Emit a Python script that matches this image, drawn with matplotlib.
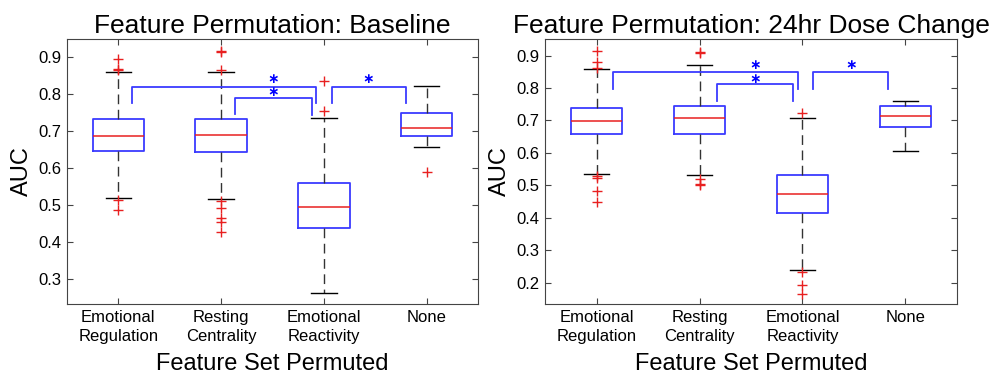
import matplotlib
matplotlib.use("Agg")
import matplotlib.pyplot as plt

plt.rcParams["font.family"] = ["Liberation Sans", "DejaVu Sans"]

# feature sets on the x axis
labels = ["Emotional\nRegulation", "Resting\nCentrality", "Emotional\nReactivity", "None"]

# baseline panel
base_med = [0.686, 0.688, 0.496, 0.709]
base_q1 = [0.647, 0.644, 0.439, 0.685]
base_q3 = [0.731, 0.731, 0.560, 0.747]
base_lo = [0.518, 0.516, 0.262, 0.657]
base_hi = [0.858, 0.860, 0.734, 0.821]
base_out = [[0.894, 0.867, 0.865, 0.514, 0.487],
            [0.916, 0.913, 0.864, 0.511, 0.491, 0.464, 0.455, 0.427],
            [0.836, 0.754],
            [0.590]]

# 24hr dose change panel
dose_med = [0.699, 0.707, 0.473, 0.713]
dose_q1 = [0.658, 0.658, 0.414, 0.680]
dose_q3 = [0.737, 0.745, 0.533, 0.745]
dose_lo = [0.534, 0.531, 0.240, 0.607]
dose_hi = [0.857, 0.872, 0.707, 0.760]
dose_out = [[0.915, 0.881, 0.861, 0.530, 0.522, 0.481, 0.448],
            [0.910, 0.907, 0.520, 0.504, 0.501],
            [0.723, 0.234, 0.193, 0.165],
            []]

# significance brackets: x start, x end, top, left leg end, right leg end
base_brackets = [(1.136, 2.922, 0.819, 0.776, 0.776),
                 (2.138, 2.880, 0.788, 0.745, 0.743),
                 (3.078, 3.795, 0.819, 0.776, 0.776)]
base_stars = [(2.509, 0.840), (2.509, 0.806), (3.432, 0.840)]
dose_brackets = [(1.161, 2.953, 0.848, 0.798, 0.798),
                 (2.167, 2.911, 0.812, 0.761, 0.761),
                 (3.105, 3.828, 0.848, 0.798, 0.798)]
dose_stars = [(2.535, 0.872), (2.535, 0.829), (3.466, 0.872)]

BLUE = "#3a3aff"


def panel(ax, title, med, q1, q3, lo, hi, out, brackets, stars, ylim, yticks):
    stats = []
    for i in range(len(labels)):
        stats.append(dict(med=med[i], q1=q1[i], q3=q3[i], whislo=lo[i],
                          whishi=hi[i], fliers=out[i]))
    ax.bxp(stats, positions=range(1, len(labels) + 1), widths=0.5,
           capwidths=0.25, showfliers=True,
           boxprops=dict(color=BLUE, linewidth=1.3),
           medianprops=dict(color="#e82020", linewidth=1.1),
           whiskerprops=dict(color="#333333", linewidth=1.0, linestyle=(0, (7, 4))),
           capprops=dict(color="black", linewidth=1.0),
           flierprops=dict(marker="+", markeredgecolor="#e82020",
                           markersize=7, linestyle="none"))
    for x0, x1, top, l0, l1 in brackets:
        ax.plot([x0, x0, x1, x1], [l0, top, top, l1], color=BLUE, linewidth=1.3)
    for sx, sy in stars:
        ax.text(sx, sy, r"$\mathbf{\ast}$", color="blue", fontsize=10,
                ha="center", va="center")
    ax.set_xlim(0.5, 4.5)
    ax.set_ylim(*ylim)
    ax.set_yticks(yticks)
    ax.set_yticklabels([f"{t:.1f}" for t in yticks])
    ax.set_xticks(range(1, len(labels) + 1))
    ax.set_xticklabels(labels)
    for lbl in ax.get_xticklabels():
        lbl.set_linespacing(1.35)
    ax.tick_params(direction="in", top=True, right=True, length=4,
                   labelsize=12, color="#444444", pad=4)
    for sp in ax.spines.values():
        sp.set_color("#444444")
    ax.set_title(title, fontsize=19, pad=4)
    ax.set_ylabel("AUC", fontsize=17, labelpad=4)
    ax.set_xlabel("Feature Set Permuted", fontsize=17, labelpad=7)


fig = plt.figure(figsize=(9.94, 3.77), dpi=100)
ax1 = fig.add_axes([67 / 994, 73 / 377, 411 / 994, 265 / 377])
ax2 = fig.add_axes([545 / 994, 73 / 377, 412 / 994, 265 / 377])

panel(ax1, "Feature Permutation: Baseline", base_med, base_q1, base_q3,
      base_lo, base_hi, base_out, base_brackets, base_stars,
      (0.233, 0.948), [0.3, 0.4, 0.5, 0.6, 0.7, 0.8, 0.9])
panel(ax2, "Feature Permutation: 24hr Dose Change", dose_med, dose_q1, dose_q3,
      dose_lo, dose_hi, dose_out, dose_brackets, dose_stars,
      (0.134, 0.951), [0.2, 0.3, 0.4, 0.5, 0.6, 0.7, 0.8, 0.9])

fig.savefig("out.png", dpi=100)
